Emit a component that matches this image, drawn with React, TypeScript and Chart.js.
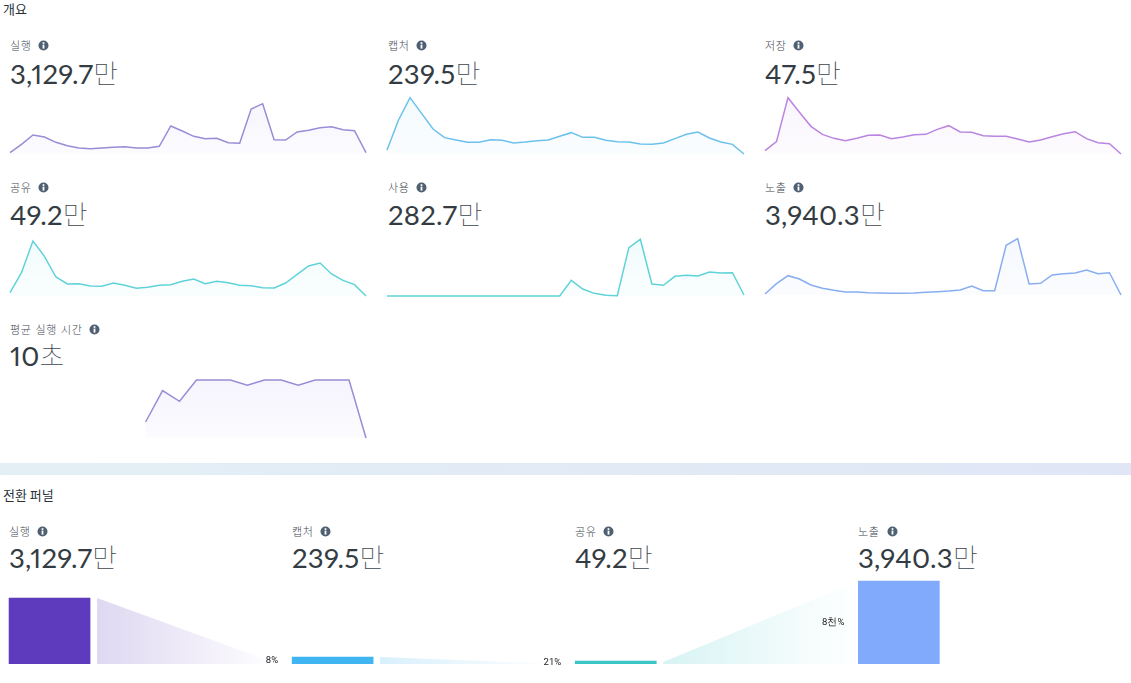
import React, { useEffect, useRef } from "react";
import { Chart, registerables } from "chart.js";

Chart.register(...registerables);

const runs = [4,29,57,51,35,25,18,16,18,20,22,18,18,23,84,69,53,46,47,34,32,135,151,43,42,66,71,79,82,73,70,4];
const captures = [12,102,169,122,75,49,42,35,35,43,41,33,36,40,42,53,64,50,50,41,37,36,30,29,33,46,59,66,48,36,29,0];
const saves = [10,37,169,125,83,59,47,40,47,56,57,46,51,58,59,74,85,66,65,55,53,53,45,36,42,52,61,67,46,34,31,0];
const shares = [10,70,165,119,57,36,37,30,29,39,32,23,26,32,34,44,51,37,44,40,32,31,25,24,39,65,90,99,66,47,34,0];
const uses = [0,0,0,0,0,0,0,0,0,0,0,0,0,0,0,0,47,21,8,2,1,145,170,36,32,59,62,60,72,69,70,3];
const impressions = [3,34,58,48,30,20,14,9,9,7,6,5,5,6,8,10,12,15,27,13,13,149,169,33,35,60,64,66,75,64,67,0];
const avgTime = [null,null,null,null,null,null,null,null,48,142,110,174,174,174,158,174,174,158,174,174,174,0];

const funnelNames = ["실행", "캡처", "공유", "노출"];
const funnelTotals = ["3,129.7", "239.5", "49.2", "3,940.3"];
const funnelBars = [3129.7, 332, 142, 3940.3];
const funnelRates = ["8%", "21%", "8천%"];
const funnelColors = ["#5e3abc", "#3fb5f1", "#3cc5c6", "#82aafc"];
const connectorRgb = ["94,58,188", "63,181,241", "60,197,198"];

const NUM_FONT = "Lato, 'Noto Sans CJK KR', sans-serif";
const KR_FONT = "'Noto Sans CJK KR', 'Noto Sans', sans-serif";

function Spark({ data, color, rgb, left, width, baseline }: any) {
  const ref = useRef<HTMLCanvasElement>(null);
  useEffect(() => {
    const chart = new Chart(ref.current!, {
      type: "line",
      data: {
        labels: data.map((_: any, i: number) => String(i)),
        datasets: [{
          data,
          borderColor: color,
          backgroundColor: (c: any) => {
            const area = c.chart.chartArea;
            if (!area) return `rgba(${rgb},0.05)`;
            const g = c.chart.ctx.createLinearGradient(0, area.top, 0, area.bottom);
            g.addColorStop(0, `rgba(${rgb},0.09)`);
            g.addColorStop(1, `rgba(${rgb},0.03)`);
            return g;
          },
          borderWidth: 1.5,
          pointRadius: 0,
          tension: 0,
          fill: "origin",
          spanGaps: false,
          clip: false,
        }],
      },
      options: {
        animation: false,
        responsive: false,
        layout: { padding: { left: 2, right: 2, top: 2, bottom: 2 } },
        plugins: { legend: { display: false }, tooltip: { enabled: false } },
        scales: {
          x: { display: false, offset: false },
          y: { display: false, min: 0, max: 180 },
        },
      },
    } as any);
    return () => chart.destroy();
  }, []);
  return (
    <canvas
      ref={ref}
      width={width + 4}
      height={64}
      style={{ position: "absolute", left: left - 2, top: baseline - 62, width: width + 4, height: 64 }}
    />
  );
}

function Info({ x, y }: any) {
  return (
    <svg width={11} height={11} viewBox="0 0 11 11" style={{ position: "absolute", left: x - 5.5, top: y - 5.5 }}>
      <circle cx={5.5} cy={5.5} r={5} fill="#4f6072" />
      <rect x={4.6} y={2.2} width={1.8} height={1.7} fill="#fff" />
      <rect x={4.6} y={4.6} width={1.8} height={4} fill="#fff" />
    </svg>
  );
}

function Metric({ label, value, unit, x, labelY, valueY, iconX }: any) {
  return (
    <>
      <div style={{ position: "absolute", left: x, top: labelY - 8, height: 16, lineHeight: "16px", fontSize: 11, letterSpacing: 0.6, wordSpacing: 1, color: "#3f4953", fontFamily: KR_FONT, fontWeight: 300, whiteSpace: "nowrap" }}>{label}</div>
      <Info x={iconX} y={labelY} />
      <div style={{ position: "absolute", left: x, top: valueY - 21, height: 40, lineHeight: "40px", whiteSpace: "nowrap", color: "#343c43" }}>
        <span style={{ fontFamily: NUM_FONT, fontSize: 27.5, fontWeight: 400, letterSpacing: 0.25, fontVariantNumeric: "proportional-nums", fontFeatureSettings: "'pnum' 1" }}>{value}</span>
        <span style={{ fontFamily: KR_FONT, fontSize: 27, fontWeight: 100, color: "#3c444c" }}>{unit}</span>
      </div>
    </>
  );
}

const connectorPlugin = {
  id: "connectors",
  afterDatasetsDraw(chart: any) {
    const { ctx } = chart;
    const bars = chart.getDatasetMeta(0).data;
    for (let i = 0; i < bars.length - 1; i++) {
      const a = bars[i];
      const b = bars[i + 1];
      const base = a.base;
      const x0 = a.x + a.width / 2 + 7;
      const rising = b.y < a.y;
      const nextLeft = b.x - b.width / 2;
      const x1 = rising ? nextLeft : nextLeft - 14;
      const y1 = rising ? b.y : base;
      const g = ctx.createLinearGradient(x0, 0, x1, 0);
      g.addColorStop(0, `rgba(${connectorRgb[i]},0.2)`);
      g.addColorStop(1, `rgba(${connectorRgb[i]},0)`);
      ctx.save();
      ctx.fillStyle = g;
      ctx.beginPath();
      ctx.moveTo(x0, rising ? Math.min(a.y + 1, base - 1) : a.y);
      ctx.lineTo(x1, y1);
      ctx.lineTo(x1, base);
      ctx.lineTo(x0, base);
      ctx.closePath();
      ctx.fill();
      ctx.fillStyle = "#222";
      ctx.font = "9.5px Roboto, sans-serif";
      ctx.textAlign = "right";
      ctx.textBaseline = "middle";
      ctx.fillText(funnelRates[i], nextLeft - 14, Math.min((b.y + b.base) / 2, 660));
      ctx.restore();
    }
  },
};

function Funnel() {
  const ref = useRef<HTMLCanvasElement>(null);
  useEffect(() => {
    const chart = new Chart(ref.current!, {
      type: "bar",
      data: {
        datasets: [{
          data: funnelBars.map((y, x) => ({ x, y })),
          backgroundColor: funnelColors,
          barThickness: 81,
        }],
      },
      options: {
        animation: false,
        responsive: false,
        layout: { padding: { left: 0, right: 0, top: 0, bottom: 6 } },
        plugins: { legend: { display: false }, tooltip: { enabled: false } },
        scales: {
          x: { type: "linear", display: false, offset: false, min: -0.175, max: 3.82 },
          y: { display: false, min: 0, max: 4462 },
        },
      },
      plugins: [connectorPlugin],
    } as any);
    return () => chart.destroy();
  }, []);
  return <canvas ref={ref} width={1131} height={100} style={{ position: "absolute", left: 0, top: 570, width: 1131, height: 100 }} />;
}

export default function App() {
  const titleStyle: any = { position: "absolute", left: 3, height: 18, lineHeight: "18px", fontSize: 13, color: "#2a3138", fontFamily: KR_FONT, whiteSpace: "nowrap" };
  return (
    <div style={{ position: "absolute", left: 0, top: 0, width: 1131, height: 683, overflow: "hidden", background: "#fff" }}>
      <div style={{ ...titleStyle, top: 0 }}>개요</div>

      <Metric label="실행" value="3,129.7" unit="만" x={10} labelY={45} valueY={74} iconX={43} />
      <Metric label="캡처" value="239.5" unit="만" x={388} labelY={45} valueY={74} iconX={421} />
      <Metric label="저장" value="47.5" unit="만" x={765} labelY={45} valueY={74} iconX={798} />
      <Metric label="공유" value="49.2" unit="만" x={10} labelY={187} valueY={215} iconX={43} />
      <Metric label="사용" value="282.7" unit="만" x={388} labelY={187} valueY={215} iconX={421} />
      <Metric label="노출" value="3,940.3" unit="만" x={765} labelY={187} valueY={215} iconX={798} />
      <Metric label="평균 실행 시간" value="10" unit="초" x={10} labelY={329} valueY={356} iconX={94} />

      <Spark data={runs} color="#9b8cd6" rgb="155,130,235" left={10} width={356} baseline={154} />
      <Spark data={captures} color="#6cc1ec" rgb="108,193,236" left={387} width={357} baseline={154} />
      <Spark data={saves} color="#b985e0" rgb="185,133,224" left={765} width={356} baseline={154} />
      <Spark data={shares} color="#60d3d8" rgb="96,211,216" left={10} width={356} baseline={296} />
      <Spark data={uses} color="#60d3d8" rgb="96,211,216" left={387} width={357} baseline={296} />
      <Spark data={impressions} color="#88aef0" rgb="136,174,240" left={765} width={356} baseline={295} />
      <Spark data={avgTime} color="#9b8cd6" rgb="155,130,235" left={10} width={356} baseline={438} />

      <div style={{ position: "absolute", left: 0, top: 463, width: 1131, height: 12, background: "linear-gradient(90deg,#e3eff5,#e0e6f6)" }} />

      <div style={{ ...titleStyle, top: 486 }}>전환 퍼널</div>
      {funnelNames.map((n, i) => (
        <Metric key={n} label={n} value={funnelTotals[i]} unit="만" x={[9, 292, 575, 858][i]} labelY={531} valueY={558} iconX={[42, 325, 608, 892][i]} />
      ))}
      <Funnel />
    </div>
  );
}
